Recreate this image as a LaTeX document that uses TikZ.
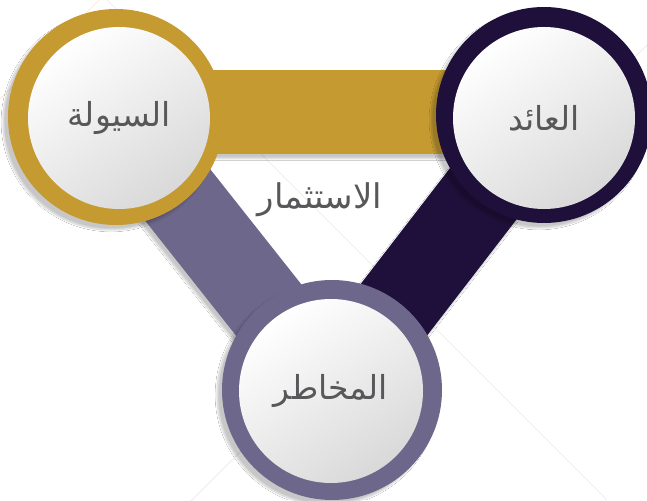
\documentclass[tikz,border=0pt]{standalone}
\usepackage{fontspec}
\newfontfamily\arabicfont[Script=Arabic]{DejaVu Sans}
\TeXXeTstate=1
\usetikzlibrary{shadows.blur,calc}
\definecolor{gold}{HTML}{C59B31}
\definecolor{navy}{HTML}{1F103B}
\definecolor{lav}{HTML}{6C678B}
\definecolor{txt}{HTML}{58585A}
\definecolor{bgline}{HTML}{F2E9CF}
\begin{document}
\begin{tikzpicture}[x=1pt,y=-1pt,
  ring/.style={circle, minimum size=216pt, inner sep=0pt,
    blur shadow={shadow xshift=-5pt, shadow yshift=-5pt, shadow blur steps=12, shadow opacity=22}},
  disc/.style={circle, minimum size=182pt, inner sep=0pt, top color=white, bottom color=black!15,
    shading angle=35, text=txt, font=\arabicfont\fontsize{33}{38}\selectfont},
  lbl/.style={text=txt, font=\arabicfont\fontsize{34}{38}\selectfont},
  barshadow/.style={blur shadow={shadow xshift=-3pt, shadow yshift=-5pt, shadow blur steps=10, shadow opacity=22}},
  bgl/.style={draw=bgline, line width=0.7pt}]
\clip (0,0) rectangle (647,500);
\fill[white] (0,0) rectangle (647,500);
% background lines
\draw[bgl] (0,99) -- (103,-4) -- (607,500);
\draw[bgl] (692,0) -- (190,502);
% anchor points for circles
\coordinate (Lc) at (116,117);
\coordinate (Rc) at (544,115);
\coordinate (Bc) at (332,390);
\coordinate (Lg) at (116,112);
\coordinate (Rg) at (544,112);
% bars
\path[fill=gold, barshadow] ($(Lg)!41.5pt!90:(Rg)$) -- ($(Rg)!41.5pt!-90:(Lg)$) -- ($(Rg)!41.5pt!90:(Lg)$) -- ($(Lg)!41.5pt!-90:(Rg)$) -- cycle;
\path[fill=lav, barshadow] ($(Lc)!41.5pt!90:(Bc)$) -- ($(Bc)!41.5pt!-90:(Lc)$) -- ($(Bc)!41.5pt!90:(Lc)$) -- ($(Lc)!41.5pt!-90:(Bc)$) -- cycle;
\path[fill=navy, barshadow] ($(Rc)!42pt!90:(Bc)$) -- ($(Bc)!42pt!-90:(Rc)$) -- ($(Bc)!42pt!90:(Rc)$) -- ($(Rc)!42pt!-90:(Bc)$) -- cycle;
% circles
\node[ring, fill=gold] (L) at (Lc) {};
\node[disc] (Lt) at (119,118) {\beginR السيولة\endR};
\node[ring, fill=navy] (R) at (Rc) {};
\node[disc] (Rt) at (544,118) {\beginR العائد\endR};
\node[ring, fill=lav, minimum size=220pt] (B) at (Bc) {};
\node[disc, minimum size=184pt] (Bt) at (331,391) {\beginR المخاطر\endR};
\node[lbl] (I) at (320,200) {\beginR الاستثمار\endR};
\end{tikzpicture}
\end{document}
